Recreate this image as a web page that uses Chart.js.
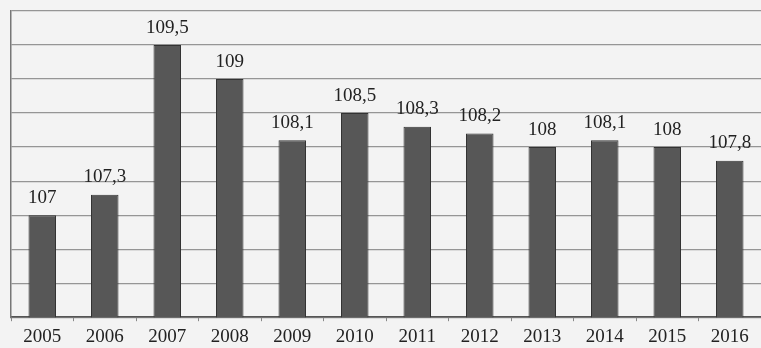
<!DOCTYPE html>
<html>
<head>
<meta charset="utf-8">
<script src="https://cdn.jsdelivr.net/npm/chart.js@4/dist/chart.umd.min.js"></script>
<style>
  body { margin: 0; background: #f3f3f3; }
  canvas { display: block; }
</style>
</head>
<body>
<canvas id="mycanvas" width="761" height="348"></canvas>
<script>
var years = ['2005', '2006', '2007', '2008', '2009', '2010', '2011', '2012', '2013', '2014', '2015', '2016'];
var index = [107, 107.3, 109.5, 109, 108.1, 108.5, 108.3, 108.2, 108, 108.1, 108, 107.8];
var yMin = 105.5, yMax = 110, yStep = 0.5;

// paper background
var paper = {
	id: 'paper',
	beforeDraw: function(chart) {
		var c = chart.ctx;
		c.save();
		c.fillStyle = '#f3f3f3';
		c.fillRect(0, 0, chart.width, chart.height);
		c.restore();
	}
};

// value labels above bars, comma as decimal separator
var valueLabels = {
	id: 'valueLabels',
	afterDatasetsDraw: function(chart) {
		var c = chart.ctx;
		var meta = chart.getDatasetMeta(0);
		c.save();
		c.font = '19px "Liberation Serif", serif';
		c.fillStyle = '#222';
		c.textAlign = 'center';
		c.textBaseline = 'bottom';
		meta.data.forEach(function(bar, i) {
			var txt = String(index[i]).replace('.', ',');
			c.fillText(txt, bar.x, bar.y - 8);
		});
		c.restore();
	}
};

var chartdata = {
	labels: years,
	datasets: [
		{
			data: index,
			backgroundColor: '#575757',
			borderColor: '#333333',
			borderWidth: 1,
			barPercentage: 0.44,
			categoryPercentage: 1
		}
	]
};

var ctx = document.getElementById('mycanvas');

var barGraph = new Chart(ctx, {
	type: 'bar',
	data: chartdata,
	options: {
		responsive: false,
		animation: false,
		layout: { padding: { top: 11, left: 11, right: -2, bottom: -4 } },
		plugins: {
			legend: { display: false },
			tooltip: { enabled: false }
		},
		scales: {
			x: {
				grid: { drawOnChartArea: false, color: '#888', tickLength: 4, offset: true },
				border: { color: '#555', width: 1.5 },
				ticks: {
					color: '#222',
					font: { family: '"Liberation Serif", serif', size: 19 },
					padding: 4,
					maxRotation: 0
				}
			},
			y: {
				min: yMin,
				max: yMax,
				ticks: { display: false, stepSize: yStep },
				grid: { color: '#959595', lineWidth: 1.2, drawTicks: false },
				border: { color: '#777', width: 1.5 }
			}
		}
	},
	plugins: [paper, valueLabels]
});
</script>
</body>
</html>
